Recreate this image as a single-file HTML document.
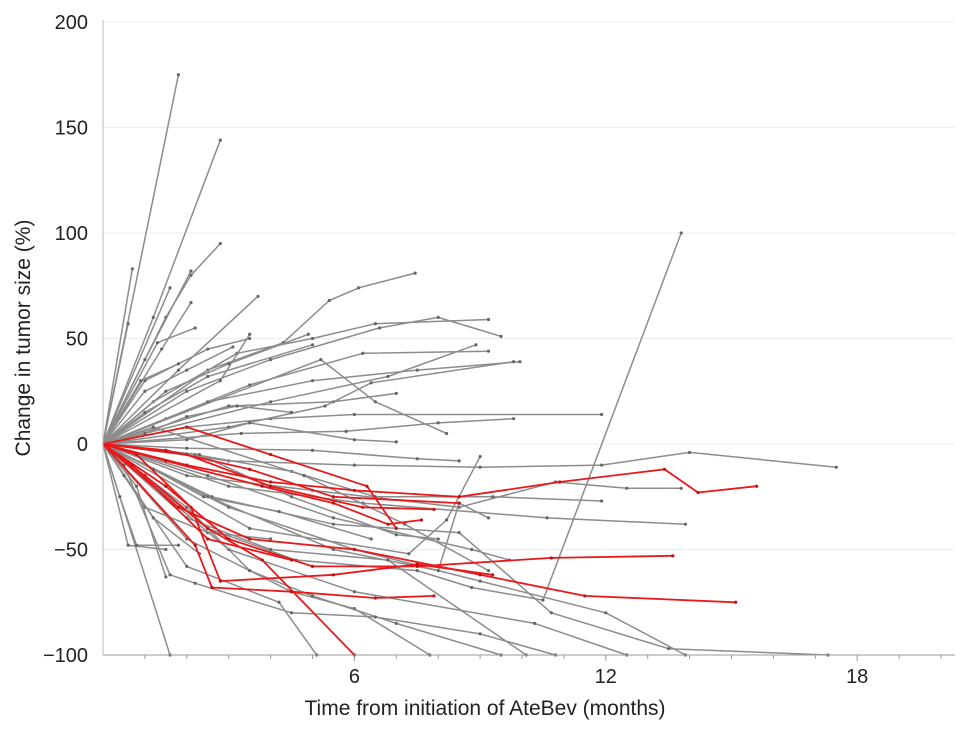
<!DOCTYPE html>
<html><head><meta charset="utf-8">
<style>
html,body{margin:0;padding:0;background:#fff;}
svg{display:block;font-family:"Liberation Sans",Arial,sans-serif;}
</style></head>
<body>
<svg id="chart" width="969" height="733" viewBox="0 0 969 733" xmlns="http://www.w3.org/2000/svg">
<g id="grid"></g>
<g id="series"></g>
<g id="axes"></g>
<text x="485" y="715" font-size="21" text-anchor="middle" fill="#222">Time from initiation of AteBev (months)</text>
<text transform="translate(30,338) rotate(-90)" font-size="21" text-anchor="middle" fill="#222">Change in tumor size (%)</text>
</svg>
<script>
const yTicks = [200, 150, 100, 50, 0, -50, -100];
const yTickLabels = ["200", "150", "100", "50", "0", "−50", "−100"];
const xTicks = [6, 12, 18];
const xTickLabels = ["6", "12", "18"];

const greySeries = [
 [[0,0],[1.8,175]],
 [[0,0],[1.2,60],[2.8,144]],
 [[0,0],[1.5,60],[2.1,80],[2.8,95]],
 [[0,0],[0.7,83]],
 [[0,0],[1.6,74]],
 [[0,0],[1.0,40],[2.1,82]],
 [[0,0],[1.8,35],[3.7,70]],
 [[0,0],[2.5,35],[4.3,48],[5.4,68],[6.1,74],[7.45,81]],
 [[0,0],[1.2,20],[3.2,43],[5.0,50],[6.5,57],[9.2,59]],
 [[0,0],[2,25],[4,40],[6.6,55],[8.0,60],[9.5,51]],
 [[0,0],[1.5,12],[3.5,28],[6.2,43],[9.2,44]],
 [[0,0],[2.5,20],[5,30],[7.5,35],[9.95,39]],
 [[0,0],[1.0,30],[2.5,45],[3.5,50]],
 [[0,0],[1.3,48],[2.2,55]],
 [[0,0],[1.4,45],[2.1,67]],
 [[0,0],[2.8,30],[3.5,52]],
 [[0,0],[3,18],[5.5,20],[7.0,24]],
 [[0,0],[2,8],[4,12],[6,14],[11.9,14]],
 [[0,0],[3.3,5],[5.8,6],[8,10],[9.8,12]],
 [[0,0],[2,-2],[5,-3],[7.5,-7],[8.5,-8]],
 [[0,0],[3,-8],[6,-10],[9,-11],[11.9,-10],[14,-4],[17.5,-11]],
 [[0,0],[1,-30],[2.5,-42],[4,-45]],
 [[0,0],[0.6,-48],[1.5,-50]],
 [[0,0],[1.6,-100]],
 [[0,0],[0.8,-20],[1.5,-63]],
 [[0,0],[2,-45],[4.5,-70],[6,-78],[7.8,-100]],
 [[0,0],[2,-58],[4.2,-75],[5.1,-100]],
 [[0,0],[2.5,-40],[4.6,-55],[7.5,-60],[8.8,-68],[10.5,-74],[13.8,100]],
 [[0,0],[3,-50],[6,-70],[10.3,-85],[12.5,-100]],
 [[0,0],[3,-30],[6,-50],[9,-65],[12,-80],[13.9,-100]],
 [[0,0],[2.6,-25],[5.5,-38],[8.5,-42],[10.7,-80],[13.5,-97],[17.3,-100]],
 [[0,0],[3,-20],[6.2,-28],[10.6,-35],[13.9,-38]],
 [[0,0],[2,-15],[5,-22],[8.5,-30],[10.8,-18],[12.5,-21],[13.8,-21]],
 [[0,0],[3.5,-40],[7.3,-52],[8.2,-36],[9.0,-6]],
 [[0,0],[2.5,-25],[5.5,-50],[8,-60],[8.5,-28],[9.2,-35]],
 [[0,0],[1.5,25],[3.0,38],[4.9,52]],
 [[0,0],[1,15],[2.5,32],[5,47]],
 [[0,0],[2.2,-5],[4.5,-13],[6.5,-25],[9.3,-25],[11.9,-27]],
 [[0,0],[4,20],[6.8,32],[8.9,47]],
 [[0,0],[1.2,8],[4.8,-15],[7.2,-38],[9.2,-60]],
 [[0,0],[0.5,-15],[1.2,-35],[2.3,-52]],
 [[0,0],[0.6,57]],
 [[0,0],[0.9,30],[1.8,38]],
 [[0,0],[3,8],[5.3,18],[6.4,29],[9.8,39]],
 [[0,0],[2,-30],[3.5,-60],[5,-72],[7,-85],[9.5,-100]],
 [[0,0],[2,-35],[4,-50],[6.8,-55],[10.1,-100]],
 [[0,0],[0.5,-10],[1.6,-62],[2.2,-66],[4.5,-80],[6.5,-82],[9,-90],[10.8,-100]],
 [[0,0],[2.3,-5],[4.5,-25],[7.0,-43],[8.0,-45]],
 [[0,0],[1,5],[2,13],[3.2,18],[4.5,15]],
 [[0,0],[2,2],[3.5,10],[6,2],[7,1]],
 [[0,0],[1,25],[2,35],[3.1,46]],
 [[0,0],[5.2,40],[6.5,20],[8.2,5]],
 [[0,0],[2.5,-15],[5.5,-35],[8.8,-50],[9.7,-55]],
 [[0,0],[1.2,-12],[2.4,-25],[4.2,-32],[6.4,-45]],
 [[0,0],[0.4,-25],[0.8,-48],[1.8,-48]]
];

const redSeries = [
 [[0,0],[2,-10],[4,-18],[6,-22],[8.5,-25],[10.9,-18],[13.4,-12],[14.2,-23],[15.6,-20]],
 [[0,0],[1.5,-20],[3,-45],[5,-58],[7.5,-58],[10.7,-54],[13.6,-53]],
 [[0,0],[1.8,-30],[3.5,-45],[6,-50],[9,-62],[11.5,-72],[15.1,-75]],
 [[0,0],[1,-15],[2.5,-40],[3.8,-55],[6,-100]],
 [[0,0],[2,-5],[4,-20],[6.2,-30],[7.9,-31]],
 [[0,0],[2.2,-48],[2.6,-68],[4.5,-70],[6.5,-73],[7.9,-72]],
 [[0,0],[0.7,-10],[2.5,-45],[4.5,-55]],
 [[0,0],[1.5,-3],[3.5,-12],[5.5,-25],[8.5,-28]],
 [[0,0],[0.8,-5],[2.1,-30],[2.8,-65],[5.5,-62],[7.5,-57],[9.3,-62]],
 [[0,0],[2,8],[4,-5],[6.3,-20],[7,-40]],
 [[0,0],[1.5,-8],[3.8,-20],[5.5,-28],[6.8,-38],[7.6,-36]]
];

const X0 = 103, XPM = 41.9, Y0 = 444, YPU = 2.11;
function xScale(t){ return X0 + t * XPM; }
function yScale(v){ return Y0 - v * YPU; }
const NS = "http://www.w3.org/2000/svg";
function mk(tag, attrs, parent){
  const el = document.createElementNS(NS, tag);
  for (const k in attrs) el.setAttribute(k, attrs[k]);
  parent.appendChild(el);
  return el;
}
const grid = document.getElementById('grid');
const axes = document.getElementById('axes');
const ser = document.getElementById('series');

yTicks.forEach((v, i) => {
  const y = yScale(v);
  if (v > -100) {
    const g = mk('line', {x1: X0, x2: 955, y1: y, y2: y, stroke: '#ececec', 'stroke-width': 1}, grid);
    
    
  }
  const t = mk('text', {x: 88, y: y + 7, 'font-size': 20, 'text-anchor': 'end', fill: '#222'}, axes);
  t.textContent = yTickLabels[i];
  
  
});
xTicks.forEach((m, i) => {
  const x = xScale(m);
  const t = mk('text', {x: x, y: 683, 'font-size': 20, 'text-anchor': 'middle', fill: '#222'}, axes);
  t.textContent = xTickLabels[i];
  
  
});
for (let m = 1; m <= 20; m++) {
  const x = xScale(m);
  const tk = mk('line', {x1: x, x2: x, y1: 655, y2: m % 6 === 0 ? 661 : 659, stroke: '#999', 'stroke-width': 1}, axes);
  
  
}
const yax = mk('line', {x1: X0, x2: X0, y1: 20, y2: 655, stroke: '#bbb', 'stroke-width': 1}, axes);


const xax = mk('line', {x1: X0, x2: 955, y1: 655, y2: 655, stroke: '#999', 'stroke-width': 1}, axes);



function drawSeries(list, color, width, name){
  list.forEach(pts => {
    const d = pts.map((p, i) => (i ? 'L' : 'M') + xScale(p[0]).toFixed(1) + ' ' + yScale(p[1]).toFixed(1)).join(' ');
    const path = mk('path', {d: d, fill: 'none', stroke: color, 'stroke-width': width, 'stroke-linejoin': 'round'}, ser);
    
    
    pts.slice(1).forEach(p => {
      const c = mk('circle', {cx: xScale(p[0]), cy: yScale(p[1]), r: 1.6, fill: color === '#8c8c8c' ? '#666' : '#c01010'}, ser);
      
      
    });
  });
}
drawSeries(greySeries, '#8c8c8c', 1.5, 'patient-line');
drawSeries(redSeries, '#e8191b', 1.8, 'highlighted-patient-line');
</script>
</body></html>
